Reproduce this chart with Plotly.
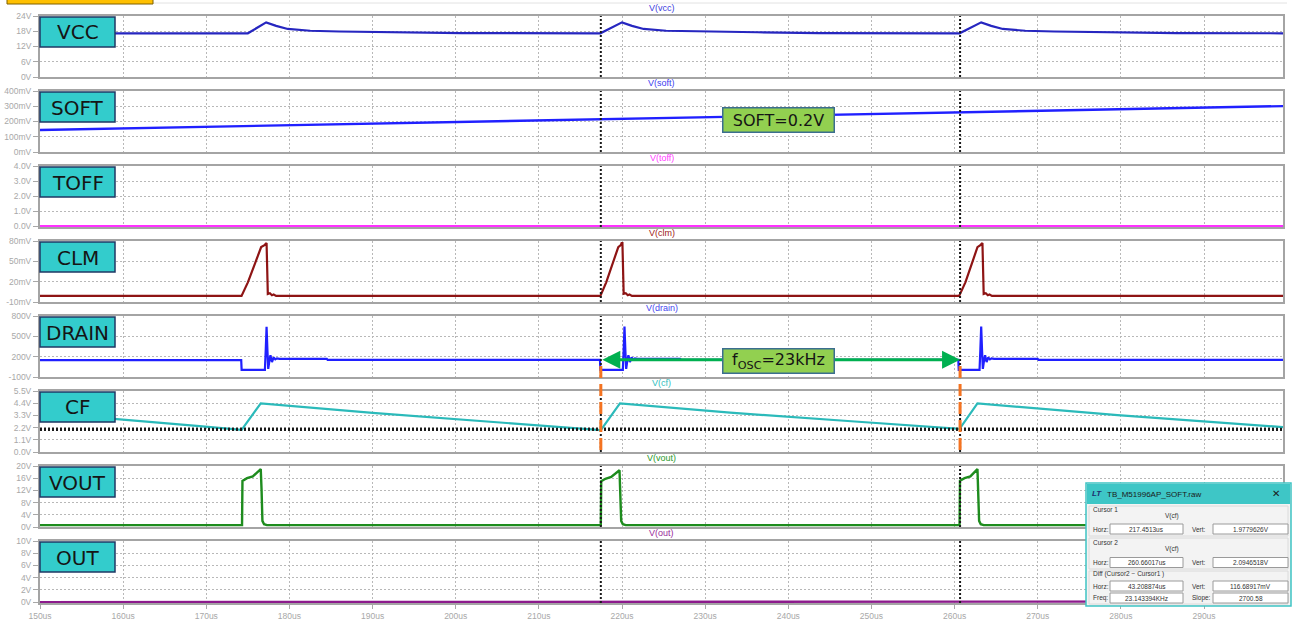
import plotly.graph_objects as go

W, H = 1294, 622

# ---------------- time base (us) ----------------
x_start, x_end = 150.0, 299.5
x_tickvals = [150, 160, 170, 180, 190, 200, 210, 220, 230, 240, 250, 260, 270, 280, 290]
x_ticktext = ["150us", "160us", "170us", "180us", "190us", "200us", "210us", "220us",
              "230us", "240us", "250us", "260us", "270us", "280us", "290us"]

# ---------------- V(vcc) [V] ----------------
t_vcc = [150.0, 175.0, 177.2, 178.4, 179.8, 182.5, 186.0, 193.3, 200.7, 217.4,
         220.0, 221.2, 222.6, 225.3, 229.0, 236.3, 243.7, 260.6,
         263.2, 264.4, 265.8, 268.5, 272.0, 279.3, 286.7, 299.5]
v_vcc = [17.2, 17.2, 21.5, 20.1, 18.9, 18.2, 17.9, 17.6, 17.3, 17.2,
         21.5, 20.1, 18.9, 18.2, 17.9, 17.6, 17.3, 17.2,
         21.5, 20.1, 18.9, 18.2, 17.9, 17.6, 17.3, 17.2]
ticks_vcc = [0, 6, 12, 18, 24]
labels_vcc = ["0V", "6V", "12V", "18V", "24V"]

# ---------------- V(soft) [mV] ----------------
t_soft = [150.0, 167.0, 184.0, 201.0, 217.45, 235.0, 252.0, 260.66, 278.0, 299.5]
v_soft = [144, 162, 180, 197, 214, 232, 250, 259, 278, 301]
ticks_soft = [0, 100, 200, 300, 400]
labels_soft = ["0mV", "100mV", "200mV", "300mV", "400mV"]

# ---------------- V(toff) [V] ----------------
t_toff = [150.0, 299.5]
v_toff = [0.0, 0.0]
ticks_toff = [0, 1, 2, 3, 4]
labels_toff = ["0.0V", "1.0V", "2.0V", "3.0V", "4.0V"]

# ---------------- V(clm) [mV] ----------------
t_clm = [150.0, 174.24, 175.0, 176.0, 176.6, 177.0, 177.15, 177.25, 177.4, 177.65, 177.9, 178.1, 178.4,
         217.4, 218.1, 219.0, 219.55, 219.85, 219.95, 220.05, 220.2, 220.45, 220.7, 220.9, 221.2,
         260.55, 261.3, 262.2, 262.75, 263.1, 263.25, 263.35, 263.5, 263.75, 264.0, 264.2, 264.5,
         299.5]
v_clm = [-1, -1, 19, 51, 71, 74, 77, 77, 2, 3, 0, 1, -1,
         -1, 19, 51, 71, 74, 77, 77, 2, 3, 0, 1, -1,
         -1, 19, 51, 71, 74, 77, 77, 2, 3, 0, 1, -1,
         -1]
ticks_clm = [-10, 20, 50, 80]
labels_clm = ["-10mV", "20mV", "50mV", "80mV"]

# ---------------- V(drain) [V] ----------------
t_drain = [150.0, 174.2, 174.25, 177.05, 177.15, 177.25, 177.35, 177.45, 177.6, 177.72, 177.9,
           178.1, 178.3, 178.5, 178.8, 184.5, 184.6,
           217.35, 217.4, 220.1, 220.2, 220.3, 220.4, 220.5, 220.65, 220.77, 220.95,
           221.15, 221.35, 221.55, 221.85, 227.0, 227.1,
           260.45, 260.5, 263.0, 263.1, 263.2, 263.3, 263.4, 263.55, 263.67, 263.85,
           264.05, 264.25, 264.45, 264.75, 270.0, 270.1, 299.5]
v_drain = [150, 150, 5, 5, 300, 640, 300, 20, 150, 220, 120,
           190, 160, 175, 168, 166, 152,
           152, 5, 5, 300, 645, 300, 20, 150, 220, 120,
           190, 160, 175, 168, 166, 152,
           152, 5, 5, 300, 645, 300, 20, 150, 220, 120,
           190, 160, 175, 168, 166, 152, 152]
ticks_drain = [-100, 200, 500, 800]
labels_drain = ["-100V", "200V", "500V", "800V"]

# ---------------- V(cf) [V] ----------------
t_cf = [150.0, 159.0, 169.2, 174.25, 176.55, 190.0, 205.0, 217.45, 219.75,
        233.0, 248.0, 260.6, 262.75, 279.6, 299.5]
v_cf = [3.55, 3.0, 2.33, 2.0, 4.38, 3.52, 2.70, 1.98, 4.38,
        3.55, 2.75, 2.09, 4.38, 3.33, 2.24]
ticks_cf = [0.0, 1.1, 2.2, 3.3, 4.4, 5.5]
labels_cf = ["0.0V", "1.1V", "2.2V", "3.3V", "4.4V", "5.5V"]

# ---------------- V(vout) [V] ----------------
t_vout = [150.0, 174.3, 174.35, 174.9, 175.6, 176.55, 176.65, 176.75, 176.95, 177.3,
          217.45, 217.5, 218.0, 218.7, 219.7, 219.8, 219.9, 220.1, 220.45,
          260.6, 260.65, 261.2, 261.9, 262.75, 262.85, 262.95, 263.15, 263.5, 299.5]
v_vout = [0.6, 0.6, 15.1, 16.0, 16.6, 19.0, 12.0, 2.0, 0.9, 0.6,
          0.6, 15.0, 15.8, 16.4, 18.6, 12.0, 2.0, 0.9, 0.6,
          0.6, 15.2, 16.0, 16.6, 19.0, 12.0, 2.0, 0.9, 0.6, 0.6]
ticks_vout = [0, 4, 8, 12, 16, 20]
labels_vout = ["0V", "4V", "8V", "12V", "16V", "20V"]

# ---------------- V(out) [V] ----------------
t_out = [150.0, 177.3, 177.35, 299.5]
v_out = [0.0, 0.0, 0.1, 0.1]
ticks_out = [0, 2, 4, 6, 8, 10]
labels_out = ["0V", "2V", "4V", "6V", "8V", "10V"]

# ---------------- cursors ----------------
cursor1_t, cursor1_v = 217.4513, 1.9779626
cursor2_t, cursor2_v = 260.66017, 2.0946518

panels = [
    dict(tag="VCC", title="V(vcc)", t=t_vcc, v=v_vcc, yr=[0, 24], tv=ticks_vcc, tt=labels_vcc,
         color="#2626C0", tcolor="#4040E0", lw=2.2),
    dict(tag="SOFT", title="V(soft)", t=t_soft, v=v_soft, yr=[0, 400], tv=ticks_soft, tt=labels_soft,
         color="#2020FF", tcolor="#4040F0", lw=2.4),
    dict(tag="TOFF", title="V(toff)", t=t_toff, v=v_toff, yr=[-0.06, 4], tv=ticks_toff, tt=labels_toff,
         color="#FF30FF", tcolor="#FF40FF", lw=2.4),
    dict(tag="CLM", title="V(clm)", t=t_clm, v=v_clm, yr=[-10, 80], tv=ticks_clm, tt=labels_clm,
         color="#8E1414", tcolor="#A02020", lw=2.2),
    dict(tag="DRAIN", title="V(drain)", t=t_drain, v=v_drain, yr=[-100, 800], tv=ticks_drain, tt=labels_drain,
         color="#2020FF", tcolor="#4848F0", lw=2.2),
    dict(tag="CF", title="V(cf)", t=t_cf, v=v_cf, yr=[0, 5.5], tv=ticks_cf, tt=labels_cf,
         color="#2BBABA", tcolor="#30C0C0", lw=2.2),
    dict(tag="VOUT", title="V(vout)", t=t_vout, v=v_vout, yr=[0, 20], tv=ticks_vout, tt=labels_vout,
         color="#1E8C1E", tcolor="#2A9A2A", lw=2.4),
    dict(tag="OUT", title="V(out)", t=t_out, v=v_out, yr=[-0.15, 10], tv=ticks_out, tt=labels_out,
         color="#8C1A8C", tcolor="#9A2A9A", lw=2.4),
]

# pixel geometry of the stacked panes
PLOT_L, PLOT_R = 40, 1283
pane_top = [16, 91, 166, 241, 316, 391, 466, 541]
pane_h = 61


def X(px):
    return px / W


def Y(py):
    return 1 - py / H


GRID = "#B8B8B8"
FRAME = "#A4A4A4"
TICKC = "#A8A8A8"

fig = go.Figure()
layout = dict(
    width=W, height=H, autosize=False,
    margin=dict(l=0, r=0, t=0, b=0, autoexpand=False),
    paper_bgcolor="white", plot_bgcolor="white",
    showlegend=False,
    font=dict(family="Liberation Sans", size=9, color=TICKC),
)

shapes = []
annotations = []

for i, p in enumerate(panels):
    n = "" if i == 0 else str(i + 1)
    top = pane_top[i]
    bot = top + pane_h + (1 if i == len(panels) - 1 else 0)
    last = i == len(panels) - 1

    fig.add_trace(go.Scatter(
        x=p["t"], y=p["v"], mode="lines", xaxis="x" + n, yaxis="y" + n,
        line=dict(color=p["color"], width=p["lw"]), hoverinfo="skip"))

    layout["xaxis" + n] = dict(
        domain=[X(PLOT_L), X(PLOT_R)], range=[x_start, x_end], anchor="y" + n,
        tickvals=x_tickvals, ticktext=x_ticktext, showticklabels=last,
        ticks="outside" if last else "", ticklen=4, tickcolor=TICKC,
        tickfont=dict(size=8.5, color=TICKC), automargin=False,
        showgrid=True, gridcolor=GRID, gridwidth=1, griddash="2px,2px",
        showline=True, mirror=True, linecolor=FRAME, linewidth=2,
        zeroline=False, layer="below traces", fixedrange=True,
    )
    if i > 0:
        layout["xaxis" + n]["matches"] = "x"
    layout["yaxis" + n] = dict(
        domain=[Y(bot), Y(top)], range=p["yr"], anchor="x" + n,
        tickvals=p["tv"], ticktext=p["tt"], ticks="outside", ticklen=5, tickcolor=TICKC,
        tickfont=dict(size=8.5, color=TICKC), automargin=False,
        showgrid=True, gridcolor=GRID, gridwidth=1, griddash="2px,2px",
        showline=True, mirror=True, linecolor=FRAME, linewidth=2,
        zeroline=False, layer="below traces", fixedrange=True,
    )

    # trace name above each pane
    annotations.append(dict(
        text=p["title"], x=X((PLOT_L + PLOT_R) / 2), y=Y(top - 8), xref="paper", yref="paper",
        showarrow=False, font=dict(size=9, color=p["tcolor"]), xanchor="center", yanchor="middle"))

    # cursor verticals inside every pane
    for ct in (cursor1_t, cursor2_t):
        shapes.append(dict(
            type="line", xref="x" + n, yref="y" + n + " domain", x0=ct, x1=ct, y0=0, y1=1,
            line=dict(color="#1A1A1A", width=2, dash="2px,2px"), layer="above"))

    # signal tag box in the upper-left corner of the pane
    shapes.append(dict(
        type="rect", xref="paper", yref="paper", x0=X(40), x1=X(115), y0=Y(top + 31), y1=Y(top + 1),
        fillcolor="#33CCCC", line=dict(color="#1F3864", width=1.5), layer="above"))
    annotations.append(dict(
        text=p["tag"], x=X(77.5), y=Y(top + 16.5), xref="paper", yref="paper", showarrow=False,
        font=dict(family="DejaVu Sans", size=20, color="#151515"), xanchor="center", yanchor="middle"))

# horizontal cursor readouts on V(cf)
for cv in (cursor1_v, cursor2_v):
    shapes.append(dict(
        type="line", xref="x6 domain", yref="y6", x0=0, x1=1, y0=cv, y1=cv,
        line=dict(color="#1A1A1A", width=2, dash="2px,2px"), layer="above"))

# orange period markers from V(drain) down through V(cf)
for ct in (cursor1_t, cursor2_t):
    shapes.append(dict(
        type="line", xref="x5", yref="paper", x0=ct, x1=ct, y0=Y(366), y1=Y(452),
        line=dict(color="#F47321", width=3, dash="12px,6px"), layer="above"))

# header strip
shapes.append(dict(type="line", xref="paper", yref="paper", x0=X(153), x1=X(1287), y0=Y(3), y1=Y(3),
                   line=dict(color="#E2E2E2", width=1), layer="above"))
shapes.append(dict(type="rect", xref="paper", yref="paper", x0=X(7), x1=X(153), y0=Y(4), y1=Y(-3),
                   fillcolor="#FFC000", line=dict(color="#7F6000", width=1), layer="above"))

# period arrow between the two cursors
annotations.append(dict(
    x=cursor2_t, y=155, ax=cursor1_t, ay=155, xref="x5", yref="y5", axref="x5", ayref="y5",
    text="", showarrow=True, arrowside="end+start", arrowhead=2, arrowsize=1.2,
    arrowwidth=3, arrowcolor="#00B050", standoff=0, startstandoff=0))

# callout boxes
callout_font = dict(family="DejaVu Sans", size=16, color="#151515")
annotations.append(dict(
    text="SOFT=0.2V", x=X(779), y=Y(119.5), xref="paper", yref="paper", showarrow=False,
    font=callout_font, bgcolor="#92D050", bordercolor="#3B6E8F", borderwidth=1.5, borderpad=0,
    width=110, height=23, xanchor="center", yanchor="middle"))
annotations.append(dict(
    text="f<sub>OSC</sub>=23kHz", x=X(779), y=Y(360.5), xref="paper", yref="paper", showarrow=False,
    font=callout_font, bgcolor="#92D050", bordercolor="#3B6E8F", borderwidth=1.5, borderpad=0,
    width=110, height=23, xanchor="center", yanchor="middle"))

# spell-check squiggle under the subscript
sq = "M %f,%f" % (X(734), Y(369.5))
for k in range(1, 16):
    sq += " L %f,%f" % (X(734 + 2 * k), Y(369.5 + (1.3 if k % 2 else 0)))
shapes.append(dict(type="path", xref="paper", yref="paper", path=sq,
                   line=dict(color="#E03030", width=1), layer="above"))

# ---------------- cursor readout dialog ----------------
shapes.append(dict(type="rect", xref="paper", yref="paper", x0=X(1086), x1=X(1291), y0=Y(606), y1=Y(483),
                   fillcolor="#F3F3F3", line=dict(color="#3EC4C4", width=1.5), layer="above"))
shapes.append(dict(type="rect", xref="paper", yref="paper", x0=X(1087), x1=X(1290), y0=Y(504), y1=Y(484),
                   fillcolor="#3EC6C6", line=dict(width=0), layer="above"))
# group frames
for gy0, gy1 in ((506, 536), (538, 569), (571, 604)):
    shapes.append(dict(type="rect", xref="paper", yref="paper", x0=X(1089), x1=X(1288), y0=Y(gy1), y1=Y(gy0),
                       fillcolor="rgba(0,0,0,0)", line=dict(color="#DADADA", width=1), layer="above"))

small = dict(size=6.5, color="#333333")
annotations.append(dict(text="<b><i>LT</i></b>", x=X(1097), y=Y(494), xref="paper", yref="paper",
                        showarrow=False, font=dict(size=8, color="#1F2F6F"), xanchor="center", yanchor="middle"))
annotations.append(dict(text="TB_M51996AP_SOFT.raw", x=X(1105), y=Y(494.5), xref="paper", yref="paper",
                        showarrow=False, font=dict(size=8, color="#1A1A1A"), xanchor="left", yanchor="middle"))
annotations.append(dict(text="✕", x=X(1276), y=Y(494), xref="paper", yref="paper",
                        showarrow=False, font=dict(family="DejaVu Sans", size=10, color="#1A1A1A"),
                        xanchor="center", yanchor="middle"))

readout_rows = [
    ("Horz:", "217.4513us", "Vert:", "1.9779626V", 529),
    ("Horz:", "260.66017us", "Vert:", "2.0946518V", 562.5),
    ("Horz:", "43.208874us", "Vert:", "116.68917mV", 586),
    ("Freq:", "23.143394KHz", "Slope:", "2700.58", 598),
]
for lab1, val1, lab2, val2, ry in readout_rows:
    for lx, txt in ((1091, lab1), (1190, lab2)):
        annotations.append(dict(text=txt, x=X(lx), y=Y(ry), xref="paper", yref="paper", showarrow=False,
                                font=small, xanchor="left", yanchor="middle"))
    for bx0, bx1, txt in ((1110, 1183, val1), (1213, 1288, val2)):
        shapes.append(dict(type="rect", xref="paper", yref="paper", x0=X(bx0), x1=X(bx1),
                           y0=Y(ry + 5), y1=Y(ry - 5), fillcolor="white",
                           line=dict(color="#9A9A9A", width=1), layer="above"))
        annotations.append(dict(text=txt, x=X((bx0 + bx1) / 2), y=Y(ry), xref="paper", yref="paper",
                                showarrow=False, font=small, xanchor="center", yanchor="middle"))

for txt, tx, ty, anchor in (("Cursor 1", 1091, 509, "left"), ("V(cf)", 1172, 516, "center"),
                            ("Cursor 2", 1091, 542, "left"), ("V(cf)", 1172, 549, "center"),
                            ("Diff (Cursor2 − Cursor1 )", 1091, 574, "left")):
    annotations.append(dict(text=txt, x=X(tx), y=Y(ty), xref="paper", yref="paper", showarrow=False,
                            font=small, xanchor=anchor, yanchor="middle"))

layout["shapes"] = shapes
layout["annotations"] = annotations
fig.update_layout(**layout)

fig.write_html("out.html")
